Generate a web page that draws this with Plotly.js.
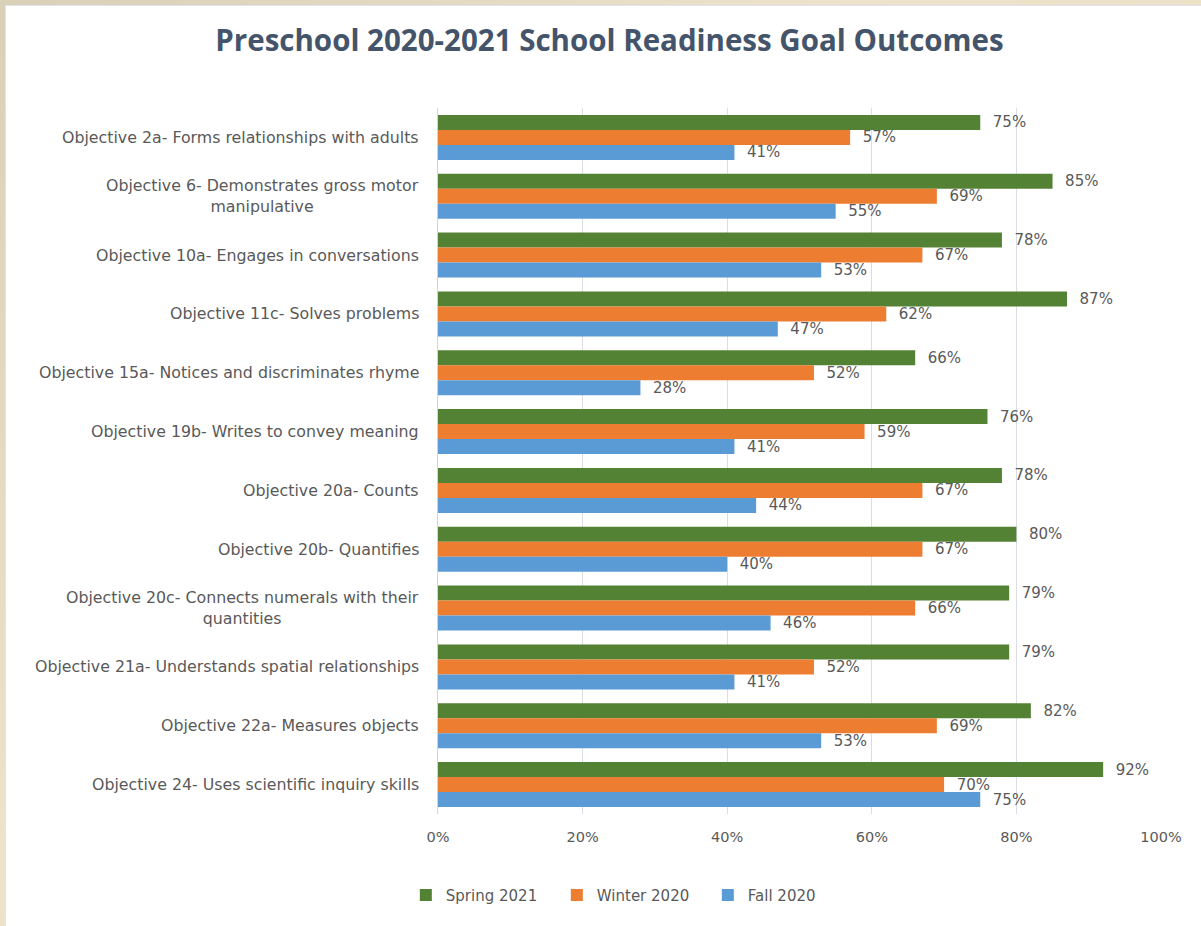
<!DOCTYPE html>
<html>
<head>
<meta charset="utf-8">
<script src="https://cdn.plot.ly/plotly-3.0.1.min.js"></script>
<style>
  html, body { margin: 0; padding: 0; width: 1201px; height: 926px; overflow: hidden;
    background: linear-gradient(135deg, #d9d0b8 0%, #ece3ca 40%, #e6dcc2 100%); }
  #panel { position: absolute; left: 5px; top: 5px; width: 1196px; height: 921px;
    background: #ffffff; border-left: 1px solid #dfe4ec; border-top: 1px solid #dfe4ec; box-sizing: border-box; }
  #chart { position: absolute; left: 0; top: 0; width: 1195px; height: 920px; }
</style>
</head>
<body>
<div id="panel"><div id="chart"></div></div>
<script>
const categories = [
  "Objective 2a- Forms relationships with adults",
  "Objective 6- Demonstrates gross motor<br>manipulative",
  "Objective 10a- Engages in conversations",
  "Objective 11c- Solves problems",
  "Objective 15a- Notices and discriminates rhyme",
  "Objective 19b- Writes to convey meaning",
  "Objective 20a- Counts",
  "Objective 20b- Quantifies",
  "Objective 20c- Connects numerals with their<br>quantities",
  "Objective 21a- Understands spatial relationships",
  "Objective 22a- Measures objects",
  "Objective 24- Uses scientific inquiry skills"
];
const spring2021 = [75, 85, 78, 87, 66, 76, 78, 80, 79, 79, 82, 92];
const winter2020 = [57, 69, 67, 62, 52, 59, 67, 67, 66, 52, 69, 70];
const fall2020   = [41, 55, 53, 47, 28, 41, 44, 40, 46, 41, 53, 75];
const seriesNames = ["Spring 2021", "Winter 2020", "Fall 2020"];
const xTicks = [0, 20, 40, 60, 80, 100];

const colors = ["#548235", "#ED7D31", "#5B9BD5"];
const textColor = "#595959";
const fontFam = "'DejaVu Sans', sans-serif";
const titleFam = "'Open Sans', sans-serif";

const seriesData = [spring2021, winter2020, fall2020];
const traces = seriesData.map((vals, i) => ({
  type: "bar",
  orientation: "h",
  name: seriesNames[i],
  y: categories,
  x: vals,
  marker: { color: colors[i] },
  text: vals.map(v => "\u00a0\u00a0" + v + "%"),
  textposition: "outside",
  textfont: { family: fontFam, size: 15, color: textColor },
  constraintext: "none",
  cliponaxis: false,
  hoverinfo: "x+name"
}));

const annotations = categories.map(c => ({
  xref: "paper", yref: "y", x: 0, y: c,
  xanchor: "right", yanchor: "middle", xshift: -17,
  text: c, showarrow: false, align: "center",
  font: { family: fontFam, size: 15.8, color: textColor }
}));

const layout = {
  width: 1195, height: 920,
  paper_bgcolor: "#ffffff", plot_bgcolor: "#ffffff",
  margin: { l: 432, r: 40, t: 102, b: 112 },
  title: {
    text: "<b>Preschool 2020-2021 School Readiness Goal Outcomes</b>",
    font: { family: titleFam, size: 29.5, color: "#44546A" },
    x: 0.505, xanchor: "center", y: 0.962, yanchor: "middle"
  },
  barmode: "group", bargap: 0.235, bargroupgap: 0,
  xaxis: {
    range: [0, 100], tickvals: xTicks, ticktext: xTicks.map(v => v + "%"),
    showgrid: true, gridcolor: "#d9dde6", gridwidth: 1,
    zeroline: false, showline: false, ticks: "", ticklabelstandoff: 12,
    tickfont: { family: fontFam, size: 14.5, color: textColor },
    fixedrange: true
  },
  yaxis: {
    autorange: "reversed", type: "category",
    showticklabels: false, ticks: "", showgrid: false, zeroline: false,
    showline: true, linecolor: "#d0d4dc", linewidth: 1,
    fixedrange: true
  },
  showlegend: true,
  legend: {
    orientation: "h", x: -0.0445, xanchor: "left", y: -0.115, yanchor: "middle",
    font: { family: fontFam, size: 15, color: textColor },
    itemwidth: 30, traceorder: "normal", entrywidth: 106, entrywidthmode: "pixels"
  },
  annotations: annotations
};

Plotly.newPlot("chart", traces, layout, { displayModeBar: false, staticPlot: true });
</script>
</body>
</html>
